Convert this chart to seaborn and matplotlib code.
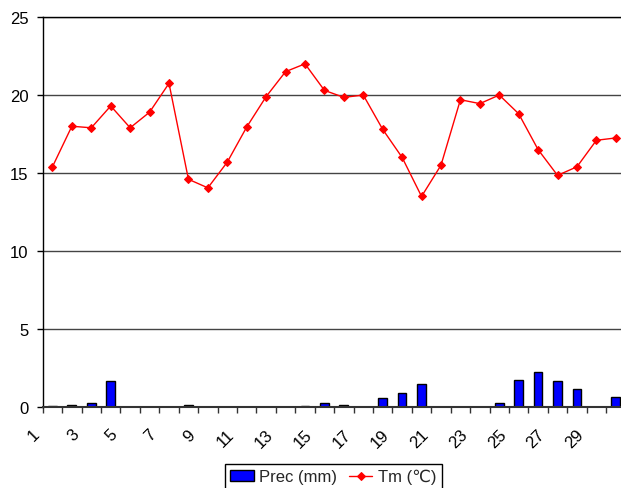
import numpy as np
import pandas as pd
import matplotlib
matplotlib.use("Agg")
import matplotlib.pyplot as plt
import seaborn as sns

# daily values
days = list(range(1, 31))
prec = [0.05, 0.1, 0.24, 1.67, 0, 0, 0, 0.1, 0, 0,
        0, 0, 0, 0.05, 0.24, 0.1, 0, 0.56, 0.88, 1.45,
        0.03, 0, 0, 0.24, 1.73, 2.24, 1.67, 1.15, 0, 0.64]
tm = [15.4, 18.0, 17.9, 19.3, 17.9, 18.9, 20.75, 14.6, 14.05, 15.7,
      17.95, 19.9, 21.5, 22.0, 20.3, 19.85, 20.0, 17.8, 16.0, 13.5,
      15.5, 19.7, 19.45, 20.0, 18.8, 16.5, 14.85, 15.4, 17.1, 17.25]
tick_labels = [str(d) for d in days[::2]]

df = pd.DataFrame({'day': days, 'prec': prec, 'tm': tm})

sns.set_theme(style="white")
plt.rcParams['font.family'] = ['Liberation Sans', 'DejaVu Sans']
plt.rcParams['font.size'] = 12

fig = plt.figure(figsize=(6.21, 4.89), dpi=100)
ax = fig.add_axes([0.0688, 0.1656, 0.9385, 0.7975])

sns.barplot(data=df, x='day', y='prec', native_scale=True, width=0.45,
            color='#0000ff', saturation=1, edgecolor='black', linewidth=1,
            label='Prec (mm)', ax=ax)
sns.lineplot(data=df, x='day', y='tm', color='#ff0000', linewidth=1,
             marker='D', markersize=4, markeredgecolor='#ff0000',
             label='Tm (℃)', ax=ax)

ax.set_xlim(0.5, 30.5)
ax.set_ylim(0, 25)
ax.set_yticks(range(0, 26, 5))
ax.set_xticks(np.arange(0.5, 29, 2))
ax.set_xticklabels(tick_labels, rotation=45, ha='right', va='top')
ax.set_xticks(np.arange(1.5, 30, 2), minor=True)
ax.set_xlabel('')
ax.set_ylabel('')

ax.yaxis.grid(True, color='#444444', linewidth=1)
ax.set_axisbelow(True)

ax.tick_params(axis='y', which='both', left=True, length=4.3, width=1,
               color='black', direction='out', pad=5.8, labelsize=12,
               labelcolor='black')
ax.tick_params(axis='x', which='both', bottom=True, length=4, width=1,
               color='#333333', direction='out', pad=10, labelsize=12,
               labelcolor='black')

for side in ['left', 'top']:
    ax.spines[side].set_color('black')
    ax.spines[side].set_linewidth(1)
ax.spines['bottom'].set_color('#333333')
ax.spines['bottom'].set_linewidth(1.5)
ax.spines['right'].set_visible(False)

handles, labels = ax.get_legend_handles_labels()
if ax.get_legend() is not None:
    ax.get_legend().remove()
order = [labels.index('Prec (mm)'), labels.index('Tm (℃)')]
leg = fig.legend([handles[i] for i in order], [labels[i] for i in order],
                 loc='upper center', bbox_to_anchor=(0.537, 0.049),
                 ncol=2, frameon=True, fancybox=False, framealpha=1,
                 edgecolor='black', fontsize=12, handlelength=1.4,
                 handletextpad=0.35, columnspacing=0.7, borderpad=0.3,
                 borderaxespad=0)
leg.get_frame().set_linewidth(1)

fig.savefig('out.png', dpi=100)
plt.close()
